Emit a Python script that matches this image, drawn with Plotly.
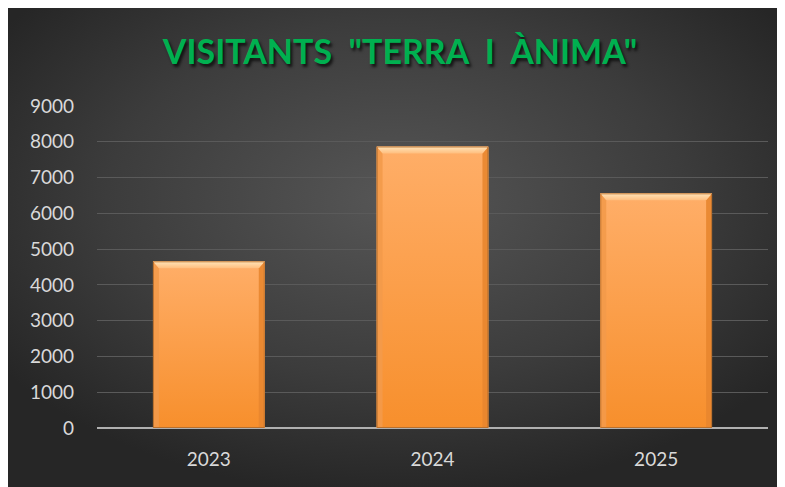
import plotly.graph_objects as go
import base64

years = ["2023", "2024", "2025"]
visitors = [4660, 7870, 6560]
y_ticks = [0, 1000, 2000, 3000, 4000, 5000, 6000, 7000, 8000, 9000]
title_text = 'VISITANTS\u00a0\u00a0"TERRA\u00a0\u00a0I\u00a0\u00a0ÀNIMA"'

# page body has an 8px margin, so the figure is drawn 8px right/down
W, H = 777, 479
L, R, T, B = 89, 17, 98, 59
pw, ph = W - L - R, H - T - B
ymax = 9000
bar_w = 0.5

def data_uri(svg):
    return "data:image/svg+xml;base64," + base64.b64encode(svg.encode()).decode()

BGW, BGH = 775, 479
bg_svg = (
    f'<svg xmlns="http://www.w3.org/2000/svg" width="{BGW}" height="{BGH}" viewBox="0 0 {BGW} {BGH}" preserveAspectRatio="none">'
    '<defs><radialGradient id="g" cx="0.5" cy="0.4" r="0.62">'
    '<stop offset="0" stop-color="#565656"/><stop offset="0.6" stop-color="#3c3c3c"/><stop offset="1" stop-color="#262626"/>'
    f'</radialGradient></defs><rect width="{BGW}" height="{BGH}" fill="url(#g)"/></svg>'
)

def bar_svg(v):
    bw = bar_w * pw / 3
    bh = v / ymax * ph
    e = 6
    return (
        f'<svg xmlns="http://www.w3.org/2000/svg" width="{bw:.1f}" height="{bh:.1f}" viewBox="0 0 {bw:.1f} {bh:.1f}" preserveAspectRatio="none">'
        '<defs>'
        '<linearGradient id="b" x1="0" y1="0" x2="0" y2="1"><stop offset="0" stop-color="#FFAE68"/><stop offset="1" stop-color="#F78F2C"/></linearGradient>'
        '<linearGradient id="t" x1="0" y1="0" x2="0" y2="1"><stop offset="0" stop-color="#FFE6BC"/><stop offset="1" stop-color="#FFBE7E"/></linearGradient>'
        '</defs>'
        f'<rect x="0" y="0" width="{bw:.1f}" height="{bh:.1f}" fill="url(#b)"/>'
        f'<polygon points="0,0 {e},{e+1} {e},{bh} 0,{bh}" fill="#F39A4A" opacity="0.9"/>'
        f'<polygon points="{bw},0 {bw-e},{e+1} {bw-e},{bh} {bw},{bh}" fill="#E8862F" opacity="0.9"/>'
        f'<polygon points="0,0 {bw},0 {bw-e},{e+1} {e},{e+1}" fill="url(#t)"/>'
        f'<rect x="0.5" y="0.5" width="{bw-1:.1f}" height="{bh-1:.1f}" fill="none" stroke="#B8702E" stroke-width="1"/>'
        '</svg>'
    )

fig = go.Figure()
fig.add_trace(go.Bar(x=list(range(len(years))), y=visitors, width=bar_w,
                     marker=dict(color="#F9A050", line=dict(width=0)), hoverinfo="x+y"))

images = [dict(source=data_uri(bg_svg), xref="paper", yref="paper",
               x=(0 - L) / pw, y=(H - B) / ph, sizex=BGW / pw, sizey=BGH / ph,
               xanchor="left", yanchor="top", sizing="stretch", layer="below")]
for i, v in enumerate(visitors):
    images.append(dict(source=data_uri(bar_svg(v)), xref="x", yref="y",
                       x=i - bar_w / 2, y=v, sizex=bar_w, sizey=v,
                       xanchor="left", yanchor="top", sizing="stretch", layer="above"))

fig.update_layout(
    width=W, height=H,
    margin=dict(l=L, r=R, t=T, b=B),
    paper_bgcolor="white",
    plot_bgcolor="rgba(0,0,0,0)",
    images=images,
    showlegend=False,
    title=dict(text=title_text, x=(400 - 8) / W, xref="container", xanchor="center",
               y=1 - 44 / H, yref="container", yanchor="middle",
               font=dict(family="Lato", size=34, color="#00B050", weight="bold",
                         shadow="2px 3px 3px rgba(0,0,0,0.7)")),
    xaxis=dict(tickvals=list(range(len(years))), ticktext=years, range=[-0.5, 2.5],
               showgrid=False, zeroline=False, showline=False, ticks="",
               ticklabelstandoff=18,
               tickfont=dict(family="Lato", size=19, color="#D9D9D9")),
    yaxis=dict(range=[0, ymax], tickvals=y_ticks, showgrid=True, gridcolor="#5A5A5A", gridwidth=1,
               zeroline=True, zerolinecolor="#B0B0B0", zerolinewidth=2, showline=False, ticks="",
               ticklabelstandoff=22,
               tickfont=dict(family="Lato", size=19, color="#D9D9D9")),
)

fig.write_html("out.html")
